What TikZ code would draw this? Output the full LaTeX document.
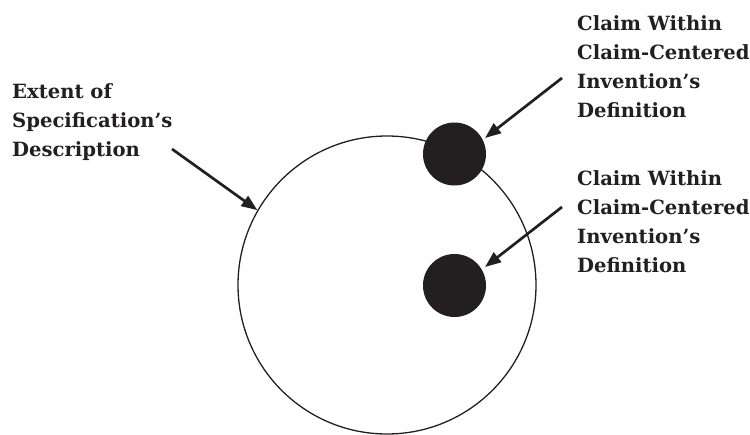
\documentclass[tikz,border=0pt]{standalone}
\usepackage{fontspec}
\setmainfont{DejaVu Serif}
\usetikzlibrary{arrows.meta}
\definecolor{ink}{RGB}{35,31,32}
\begin{document}
\begin{tikzpicture}[x=1pt,y=-1pt,
  lbl/.style={anchor=north west,inner sep=0pt,align=left,text=ink,
    font=\fontsize{19.6}{29}\selectfont\bfseries},
  dot/.style={circle,fill=ink,minimum size=63pt,inner sep=0pt},
  pointer/.style={-{Triangle[length=16pt,width=12pt]},line width=2.7pt,draw=ink}]
\useasboundingbox (0,0) rectangle (750,434);
\node[circle,draw=ink,line width=1.3pt,minimum size=298pt,inner sep=0pt] (big) at (387,285) {};
\node[dot] (c1) at (454.5,154) {};
\node[dot] (c2) at (454.5,285.5) {};
\node[lbl] (ext) at (12,83) {Extent of\\Specification’s\\Description};
\node[lbl] (cl1) at (577,15) {Claim Within\\Claim-Centered\\Invention’s\\Definition};
\node[lbl] (cl2) at (577,170) {Claim Within\\Claim-Centered\\Invention’s\\Definition};
\coordinate (s1) at (172,149);
\coordinate (s2) at (562,78);
\coordinate (s3) at (562,207);
\coordinate (t2) at (485,138);
\coordinate (t3) at (485,267);
\draw[pointer] (s1) -- (big.150);
\draw[pointer] (s2) -- (t2);
\draw[pointer] (s3) -- (t3);
\end{tikzpicture}
\end{document}
